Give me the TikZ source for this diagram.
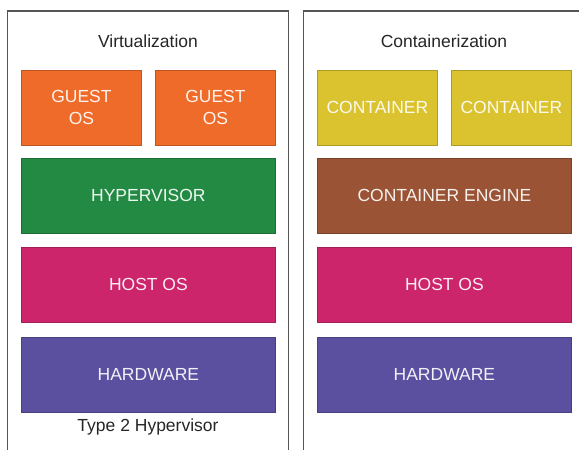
\documentclass[tikz,border=0pt]{standalone}
\usepackage{fontspec}
\setmainfont{Liberation Sans}
\usetikzlibrary{positioning}
\definecolor{guestorange}{HTML}{EE6B2A}
\definecolor{hypgreen}{HTML}{238A44}
\definecolor{enginebrown}{HTML}{9A5435}
\definecolor{hostpink}{HTML}{CC256B}
\definecolor{hwpurple}{HTML}{5B50A0}
\definecolor{contyellow}{HTML}{DBC32F}
\definecolor{framegray}{HTML}{555555}

\begin{document}
\begin{tikzpicture}[x=1pt,y=-1pt,
  layer/.style={draw=#1!80!black,fill=#1,line width=0.8pt,inner sep=0pt,anchor=north west,
    minimum height=75pt,text=white!92!#1,font=\fontsize{17.5}{22}\selectfont,align=center},
  small/.style={layer=#1,minimum width=120pt},
  wide/.style={layer=#1,minimum width=254pt},
  title/.style={text=black!85,font=\fontsize{17.5}{20}\selectfont}]
\useasboundingbox (0,0) rectangle (579,450);
\clip (0,0) rectangle (579,450);
\draw[color=framegray,line width=1.4pt](7.5,11) rectangle (288.5,470);
\draw[color=framegray,line width=1.4pt](303.5,11) rectangle (600,470);

\node[title] (virt) at (148,41) {Virtualization};
\node[small=guestorange] (guest1) at (21,70) {GUEST\\OS};
\node[small=guestorange] (guest2) at (155,70) {GUEST\\OS};
\node[wide=hypgreen] (hyper) at (21,158) {HYPERVISOR};
\node[wide=hostpink] (hostl) at (21,247) {HOST OS};
\node[wide=hwpurple] (hwl) at (21,337) {HARDWARE};
\node[title] (type2) at (148,427) {Type 2 Hypervisor};

\node[title] (cont) at (444,41) {Containerization};
\node[small=contyellow] (cont1) at (317,70) {CONTAINER};
\node[small=contyellow] (cont2) at (451,70) {CONTAINER};
\node[wide=enginebrown] (engine) at (317,158) {CONTAINER ENGINE};
\node[wide=hostpink] (hostr) at (317,247) {HOST OS};
\node[wide=hwpurple] (hwr) at (317,337) {HARDWARE};
\end{tikzpicture}
\end{document}
